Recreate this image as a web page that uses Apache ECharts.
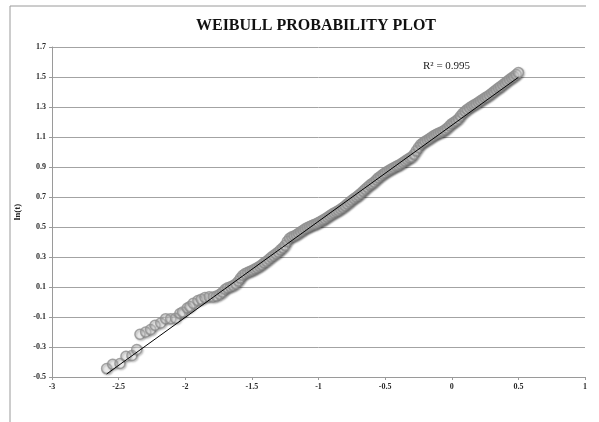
<!DOCTYPE html>
<html>
<head>
<meta charset="utf-8">
<script src="https://cdn.jsdelivr.net/npm/echarts@6/dist/echarts.min.js"></script>
<style>
  html, body { margin: 0; padding: 0; background: #fff; }
  #chart { width: 599px; height: 422px; }
</style>
</head>
<body>
<div id="chart"></div>
<script>
// Weibull plot coordinates: x = ln(-ln(1 - F)), y = ln(t)
const weibullX = [
  -2.590, -2.545, -2.490, -2.445, -2.400, -2.364, -2.340, -2.297, -2.260, -2.227,
  -2.184, -2.147, -2.109, -2.072, -2.040, -2.020, -1.985, -1.965, -1.940, -1.905,
  -1.880, -1.852, -1.820, -1.790, -1.765, -1.740, -1.719, -1.700, -1.682, -1.660,
  -1.640, -1.620, -1.600, -1.585, -1.568, -1.550, -1.530, -1.512, -1.495, -1.478,
  -1.460, -1.442, -1.425, -1.408, -1.390, -1.372, -1.355, -1.338, -1.320, -1.302,
  -1.285, -1.268, -1.251, -1.234, -1.217, -1.200, -1.183, -1.166, -1.150, -1.133,
  -1.116, -1.100, -1.083, -1.066, -1.050, -1.033, -1.016, -1.000, -0.983, -0.966,
  -0.950, -0.933, -0.916, -0.900, -0.883, -0.866, -0.850, -0.833, -0.816, -0.800,
  -0.783, -0.766, -0.750, -0.733, -0.716, -0.700, -0.683, -0.666, -0.650, -0.633,
  -0.616, -0.600, -0.583, -0.566, -0.550, -0.533, -0.516, -0.500, -0.483, -0.466,
  -0.450, -0.433, -0.416, -0.400, -0.383, -0.366, -0.350, -0.333, -0.316, -0.300,
  -0.283, -0.266, -0.250, -0.233, -0.216, -0.200, -0.183, -0.166, -0.150, -0.133,
  -0.116, -0.100, -0.083, -0.066, -0.050, -0.033, -0.016, 0.000, 0.016, 0.033,
  0.050, 0.066, 0.083, 0.100, 0.116, 0.133, 0.150, 0.166, 0.183, 0.200,
  0.216, 0.233, 0.250, 0.266, 0.283, 0.300, 0.316, 0.333, 0.350, 0.366,
  0.383, 0.400, 0.416, 0.433, 0.450, 0.466, 0.483, 0.500
];
const lnT = [
  -0.444, -0.415, -0.410, -0.362, -0.357, -0.317, -0.215, -0.200, -0.184, -0.155,
  -0.140, -0.111, -0.111, -0.108, -0.077, -0.067, -0.040, -0.030, -0.008, 0.010,
  0.018, 0.030, 0.035, 0.033, 0.040, 0.052, 0.067, 0.085, 0.095, 0.102,
  0.110, 0.122, 0.140, 0.160, 0.178, 0.190, 0.198, 0.205, 0.212, 0.220,
  0.228, 0.238, 0.248, 0.262, 0.272, 0.285, 0.298, 0.310, 0.322, 0.333,
  0.348, 0.362, 0.378, 0.405, 0.425, 0.435, 0.440, 0.448, 0.458, 0.468,
  0.478, 0.488, 0.496, 0.503, 0.510, 0.516, 0.522, 0.530, 0.538, 0.546,
  0.555, 0.565, 0.575, 0.585, 0.594, 0.602, 0.610, 0.620, 0.630, 0.642,
  0.654, 0.666, 0.678, 0.690, 0.700, 0.711, 0.724, 0.738, 0.752, 0.765,
  0.778, 0.789, 0.800, 0.815, 0.829, 0.840, 0.852, 0.862, 0.872, 0.880,
  0.888, 0.897, 0.905, 0.911, 0.920, 0.930, 0.940, 0.950, 0.960, 0.967,
  0.985, 1.008, 1.030, 1.050, 1.062, 1.072, 1.080, 1.090, 1.100, 1.110,
  1.118, 1.125, 1.131, 1.138, 1.148, 1.160, 1.175, 1.189, 1.198, 1.208,
  1.222, 1.240, 1.258, 1.272, 1.284, 1.295, 1.305, 1.313, 1.322, 1.332,
  1.342, 1.352, 1.362, 1.370, 1.380, 1.392, 1.403, 1.415, 1.426, 1.436,
  1.448, 1.460, 1.472, 1.483, 1.494, 1.504, 1.516, 1.530
];

// Linear trend line end points (x, ln t)
const trendX = [-2.59, 0.50];
const trendY = [-0.480, 1.498];

const rSquared = '0.995';
const chartTitle = 'WEIBULL PROBABILITY PLOT';
const yAxisName = 'ln(t)';

const serif = '"Liberation Serif", "DejaVu Serif", serif';

const points = weibullX.map((x, i) => [x, lnT[i]]);
const trend = trendX.map((x, i) => [x, trendY[i]]);

const chart = echarts.init(document.getElementById('chart'));
chart.setOption({
  backgroundColor: '#ffffff',
  animation: false,
  title: {
    text: chartTitle,
    left: 311,
    textAlign: 'center',
    top: 13,
    textStyle: { fontFamily: serif, fontSize: 16, fontWeight: 'bold', color: '#111' }
  },
  grid: { left: 52, right: 14, top: 47, bottom: 45 },
  xAxis: {
    type: 'value',
    min: -3, max: 1, interval: 0.5,
    axisLine: { show: true, onZero: false, lineStyle: { color: '#9a9a9a', width: 1 } },
    axisTick: { show: true, length: 3, lineStyle: { color: '#9a9a9a' } },
    axisLabel: { fontFamily: serif, fontSize: 8, fontWeight: 'bold', color: '#2a2a2a', margin: 6 },
    splitLine: { show: false }
  },
  yAxis: {
    type: 'value',
    min: -0.5, max: 1.7, interval: 0.2,
    name: yAxisName,
    nameLocation: 'middle',
    nameRotate: 90,
    nameGap: 26,
    nameTextStyle: { fontFamily: serif, fontSize: 9, fontWeight: 'bold', color: '#222' },
    axisLine: { show: true, onZero: false, lineStyle: { color: '#9a9a9a', width: 1 } },
    axisTick: { show: true, length: 3, lineStyle: { color: '#9a9a9a' } },
    axisLabel: {
      fontFamily: serif, fontSize: 8, fontWeight: 'bold', color: '#2a2a2a', margin: 6,
      formatter: v => (Math.round(v * 10) / 10).toFixed(1)
    },
    splitLine: { show: true, lineStyle: { color: '#a3a3a3', width: 1 } }
  },
  graphic: [
    { type: 'line', shape: { x1: 10, y1: 6, x2: 586, y2: 6 }, style: { stroke: '#9a9a9a', lineWidth: 1 } },
    { type: 'line', shape: { x1: 10, y1: 6, x2: 10, y2: 422 }, style: { stroke: '#9a9a9a', lineWidth: 1 } },
    {
      type: 'text', left: 423, top: 61,
      style: { text: 'R² = ' + rSquared, font: '11px ' + serif, fill: '#222' }
    }
  ],
  series: [
    {
      type: 'scatter',
      data: points,
      symbol: 'circle',
      symbolSize: 10,
      z: 2,
      itemStyle: {
        color: 'rgba(255,255,255,0.45)',
        borderColor: '#8e8e8e',
        borderWidth: 1.5,
        shadowBlur: 2,
        shadowOffsetX: 1,
        shadowOffsetY: 1,
        shadowColor: 'rgba(0,0,0,0.35)'
      }
    },
    {
      type: 'line',
      data: trend,
      showSymbol: false,
      z: 5,
      lineStyle: { color: '#000', width: 1 }
    }
  ]
});
</script>
</body>
</html>
